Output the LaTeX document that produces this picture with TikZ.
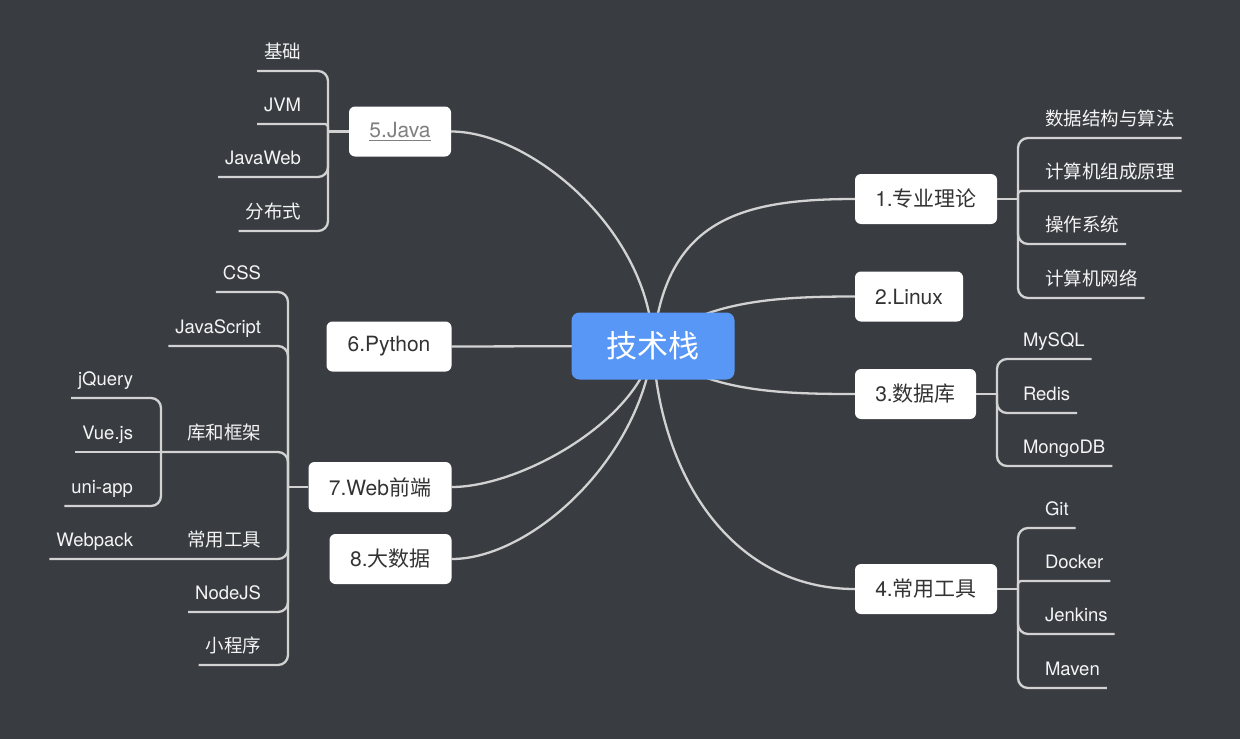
\documentclass[tikz,border=0pt]{standalone}
\usepackage{fontspec}
\setmainfont{TeX Gyre Heros}
\newfontfamily\cjk{Noto Sans CJK SC}
\definecolor{bgcol}{HTML}{393C41}
\definecolor{wirecol}{HTML}{D2D2D2}
\definecolor{rootblue}{HTML}{5897F5}
\definecolor{boxtext}{HTML}{333333}
\definecolor{linkgrey}{HTML}{808080}
\definecolor{childtext}{HTML}{F4F4F4}
\pgfdeclarelayer{bg}
\pgfdeclarelayer{wires}
\pgfsetlayers{bg,wires,main}
\tikzset{
  rootbox/.style={fill=rootblue, rounded corners=8pt, text=white, inner sep=0pt,
    font=\cjk\fontsize{31}{36}\selectfont, minimum width=163pt, minimum height=67pt},
  mainbox/.style={fill=white, rounded corners=6pt, text=boxtext, inner sep=0pt,
    font=\fontsize{21}{25}\selectfont, minimum height=50pt},
  wire/.style={draw=wirecol, line width=2.3pt},
  twig/.style={wire, rounded corners=10pt},
  twigs/.style={wire, rounded corners=3pt},
  rchild/.style={anchor=south west, inner xsep=7pt, inner ysep=9pt, outer sep=0pt,
    text height=13pt, text depth=4pt, text=childtext, font=\fontsize{18.5}{20}\selectfont},
  lchild/.style={rchild, anchor=south east},
}
\begin{document}
\begin{tikzpicture}[x=1pt,y=-1pt]
\begin{pgfonlayer}{bg}
\fill[bgcol] (0,0) rectangle (1240,739);
\end{pgfonlayer}
\useasboundingbox (0,0) rectangle (1240,739);

% root and main topics
\node[rootbox] (c) at (653,346) {技术栈};
\node[mainbox, minimum width=142pt] (n1) at (926,199) {1.{\cjk 专业理论}};
\node[mainbox, minimum width=108pt] (n2) at (909,296.5) {2.Linux};
\node[mainbox, minimum width=121pt] (n3) at (915.5,394) {3.{\cjk 数据库}};
\node[mainbox, minimum width=142pt] (n4) at (926,589) {4.{\cjk 常用工具}};
\node[mainbox, minimum width=102pt] (n5) at (400,131.5) {\color{linkgrey}\underline{5.Java}};
\node[mainbox, minimum width=125pt] (n6) at (389,346.5) {6.Python};
\node[mainbox, minimum width=143pt] (n7) at (380,487) {7.Web{\cjk 前端}};
\node[mainbox, minimum width=122pt] (n8) at (390.5,559) {8.{\cjk 大数据}};

% spine points
\coordinate (s1) at (1018,199);
\coordinate (s3) at (997,394);
\coordinate (s4) at (1018,589);
\coordinate (s5) at (328,131.5);
\coordinate (s7) at (288,487);
\coordinate (s7b) at (161,452);

% right children
\node[rchild] (a1) at (1038,138) {\cjk 数据结构与算法};
\node[rchild] (a2) at (1038,191) {\cjk 计算机组成原理};
\node[rchild] (a3) at (1038,244) {\cjk 操作系统};
\node[rchild] (a4) at (1038,298) {\cjk 计算机网络};
\node[rchild] (b1) at (1016,359) {MySQL};
\node[rchild] (b2) at (1016,413) {Redis};
\node[rchild] (b3) at (1016,466) {MongoDB};
\node[rchild] (d1) at (1038,528) {Git};
\node[rchild] (d2) at (1038,581) {Docker};
\node[rchild] (d3) at (1038,634) {Jenkins};
\node[rchild] (d4) at (1038,688) {Maven};

% left children
\node[lchild] (j1) at (308,71) {\cjk 基础};
\node[lchild] (j2) at (308,124) {JVM};
\node[lchild] (j3) at (308,177) {JavaWeb};
\node[lchild] (j4) at (308,231) {\cjk 分布式};
\node[lchild] (w1) at (268,292) {CSS};
\node[lchild] (w2) at (268,346) {JavaScript};
\node[lchild] (w3) at (268,452) {\cjk 库和框架};
\node[lchild] (w4) at (268,559) {\cjk 常用工具};
\node[lchild] (w5) at (268,612) {NodeJS};
\node[lchild] (w6) at (268,665) {\cjk 小程序};
\node[lchild] (v1) at (140,398) {jQuery};
\node[lchild] (v2) at (140,452) {Vue.js};
\node[lchild] (v3) at (140,506) {uni-app};
\node[lchild] (p1) at (140,559) {Webpack};

\begin{pgfonlayer}{wires}
% root connectors
\draw[wire] (c.center) .. controls +(-3,-116) and +(79,0) .. (n5.east);
\draw[wire] (c.center) -- (n6.east);
\draw[wire] (c.center) .. controls +(-13,74) and +(69,0) .. (n7.east);
\draw[wire] (c.center) .. controls +(-13,114) and +(79,0) .. (n8.east);
\draw[wire] (c.center) .. controls +(12,-126) and +(-115,0) .. (n1.west);
\draw[wire] (c.center) .. controls +(47,-46) and +(-75,0) .. (n2.west);
\draw[wire] (c.center) .. controls +(47,46) and +(-75,0) .. (n3.west);
\draw[wire] (c.center) .. controls +(7,134) and +(-120,0) .. (n4.west);
\end{pgfonlayer}

% branch 1
\draw[wire] (n1.east) -- (s1);
\draw[twig] (s1) |- (a1.south east);
\draw[twigs] (s1) |- (a2.south east);
\draw[twig] (s1) |- (a3.south east);
\draw[twig] (s1) |- (a4.south east);
% branch 3
\draw[wire] (n3.east) -- (s3);
\draw[twig] (s3) |- (b1.south east);
\draw[twig] (s3) |- (b2.south east);
\draw[twig] (s3) |- (b3.south east);
% branch 4
\draw[wire] (n4.east) -- (s4);
\draw[twig] (s4) |- (d1.south east);
\draw[twigs] (s4) |- (d2.south east);
\draw[twig] (s4) |- (d3.south east);
\draw[twig] (s4) |- (d4.south east);
% branch 5
\draw[wire] (n5.west) -- (s5);
\draw[twig] (s5) |- (j1.south west);
\draw[twigs] (s5) |- (j2.south west);
\draw[twig] (s5) |- (j3.south west);
\draw[twig] (s5) |- (j4.south west);
% branch 7
\draw[wire] (n7.west) -- (s7);
\draw[twig] (s7) |- (w1.south west);
\draw[twig] (s7) |- (w2.south west);
\draw[twig] (s7) |- (s7b);
\draw[twig] (s7) |- (p1.south west);
\draw[twig] (s7) |- (w5.south west);
\draw[twig] (s7) |- (w6.south west);
% sub-branch 库和框架
\draw[twig] (s7b) |- (v1.south west);
\draw[wire] (s7b) -- (v2.south west);
\draw[twig] (s7b) |- (v3.south west);
\end{tikzpicture}
\end{document}
